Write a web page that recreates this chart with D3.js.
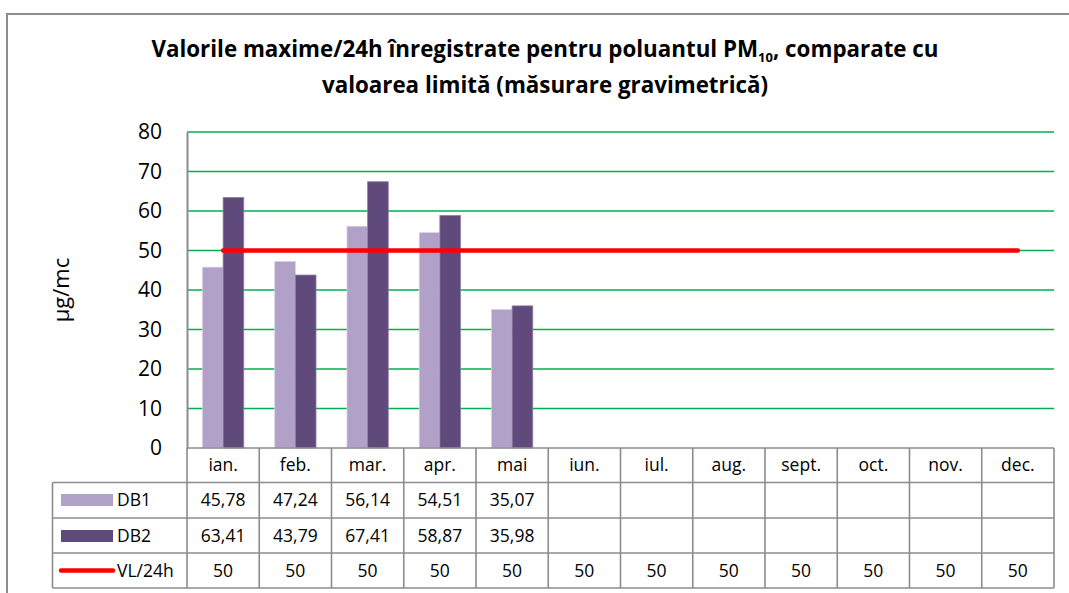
<!DOCTYPE html>
<html><head><meta charset="utf-8">
<script src="https://cdn.jsdelivr.net/npm/d3@7"></script>
<style>body{margin:0;background:#fff}svg{display:block}</style>
</head><body>
<svg id="c" width="1069" height="593"></svg>
<script>
const months = ["ian.","feb.","mar.","apr.","mai","iun.","iul.","aug.","sept.","oct.","nov.","dec."];
const db1 = [45.78, 47.24, 56.14, 54.51, 35.07, null, null, null, null, null, null, null];
const db2 = [63.41, 43.79, 67.41, 58.87, 35.98, null, null, null, null, null, null, null];
const vl = [50,50,50,50,50,50,50,50,50,50,50,50];
const yTicks = [0,10,20,30,40,50,60,70,80];
const seriesNames = ["DB1","DB2","VL/24h"];
const colors = {DB1:"#B1A0C7", DB2:"#604A7B", VL:"#FF0000", grid:"#00B050", border:"#8C8C8C"};

const svg = d3.select("#c");
const font = "Open Sans, Noto Sans, sans-serif";
const L = 187, R = 1054, T = 132, B = 448;
const x = d3.scaleBand().domain(months).range([L, R]).paddingInner(0).paddingOuter(0);
const y = d3.scaleLinear().domain([0, 80]).range([B, T]);
const bw = x.bandwidth() / 3.5;

// outer frame
svg.append("rect").attr("x",7).attr("y",14).attr("width",1100).attr("height",700)
  .attr("fill","none").attr("stroke","#8C8C8C").attr("stroke-width",2);

// title
const title = svg.append("text").attr("text-anchor","middle").attr("font-family",font)
  .attr("font-weight","bold").attr("font-size",19).attr("fill","#000");
const t1 = title.append("tspan").attr("x",545).attr("y",57);
t1.append("tspan").text("Valorile maxime/24h înregistrate pentru poluantul PM");
t1.append("tspan").attr("font-size",13).attr("dy",5).text("10");
t1.append("tspan").attr("dy",-5).text(", comparate cu");
title.append("tspan").attr("x",545).attr("y",93).text("valoarea limită (măsurare gravimetrică)");

// grid
svg.append("g").selectAll("line").data(yTicks.filter(d=>d>0)).join("line")
  .attr("x1",L).attr("x2",R).attr("y1",d=>y(d)).attr("y2",d=>y(d))
  .attr("stroke",colors.grid).attr("stroke-width",1.6);

// y axis
const yAxis = d3.axisLeft(y).tickValues(yTicks).tickSize(0).tickPadding(25);
const ga = svg.append("g").attr("transform",`translate(${L},0)`).call(yAxis);
ga.select(".domain").attr("stroke",colors.border).attr("stroke-width",2);
ga.selectAll("text").attr("font-family",font).attr("font-size",21).attr("fill","#000");

svg.append("text").attr("transform","translate(69,290) rotate(-90)").attr("text-anchor","middle")
  .attr("font-family",font).attr("font-size",22).text("µg/mc");

// bars
const bars = svg.append("g");
bars.selectAll("rect.db1").data(months.map((m,i)=>({m,v:db1[i]})).filter(d=>d.v!=null)).join("rect")
  .attr("x",d=>x(d.m)+bw*0.75).attr("width",bw).attr("y",d=>y(d.v)).attr("height",d=>B-y(d.v))
  .attr("fill",colors.DB1).attr("stroke","#D9D0E6").attr("stroke-width",0.8);
bars.selectAll("rect.db2").data(months.map((m,i)=>({m,v:db2[i]})).filter(d=>d.v!=null)).join("rect")
  .attr("x",d=>x(d.m)+bw*1.75).attr("width",bw).attr("y",d=>y(d.v)).attr("height",d=>B-y(d.v))
  .attr("fill",colors.DB2).attr("stroke","#8E7FA3").attr("stroke-width",0.8);

// VL line
svg.append("path").datum(months.map((m,i)=>({m,v:vl[i]})))
  .attr("d",d3.line().x(d=>x(d.m)+x.bandwidth()/2).y(d=>y(d.v)))
  .attr("fill","none").attr("stroke",colors.VL).attr("stroke-width",4.5).attr("stroke-linecap","round");

// data table
const rows = [482.5, 518, 553, 588];
const TL = 52.5;
const tg = svg.append("g").attr("stroke",colors.border).attr("stroke-width",1.6).attr("fill","none");
tg.append("line").attr("x1",L).attr("x2",R).attr("y1",B).attr("y2",B);
rows.forEach(r=>tg.append("line").attr("x1",TL).attr("x2",R).attr("y1",r).attr("y2",r));
tg.append("line").attr("x1",TL).attr("x2",TL).attr("y1",rows[0]).attr("y2",rows[3]);
months.forEach(m=>tg.append("line").attr("x1",x(m)).attr("x2",x(m)).attr("y1",B).attr("y2",rows[3]));
tg.append("line").attr("x1",R).attr("x2",R).attr("y1",B).attr("y2",rows[3]);

const fs = 17.5;
const tt = svg.append("g").attr("font-family",font).attr("font-size",fs).attr("fill","#000").attr("text-anchor","middle");
tt.selectAll("text.m").data(months).join("text").attr("x",d=>x(d)+x.bandwidth()/2).attr("y",(B+rows[0])/2+6).text(d=>d);
const fmt2 = v => v==null ? "" : v.toFixed(2).replace(".",",");
const rowVals = [db1.map(fmt2), db2.map(fmt2), vl.map(v=>String(v))];
rowVals.forEach((vals,ri)=>{
  tt.append("g").selectAll("text").data(months.map((m,i)=>({m,t:vals[i]}))).join("text")
    .attr("x",d=>x(d.m)+x.bandwidth()/2).attr("y",(rows[ri]+rows[ri+1])/2+6).text(d=>d.t);
});

// legend keys
const lg = svg.append("g");
lg.append("rect").attr("x",61).attr("y",494).attr("width",52).attr("height",12).attr("fill",colors.DB1);
lg.append("rect").attr("x",61).attr("y",530).attr("width",52).attr("height",12).attr("fill",colors.DB2);
lg.append("line").attr("x1",61).attr("x2",113).attr("y1",570.5).attr("y2",570.5).attr("stroke",colors.VL).attr("stroke-width",4.5).attr("stroke-linecap","round");
lg.selectAll("text").data(seriesNames).join("text").attr("x",117).attr("y",(d,i)=>(rows[i]+rows[i+1])/2+6)
  .attr("font-family",font).attr("font-size",fs).text(d=>d);

// fit title width to reference (~790px)
const tw = title.node().getBBox().width;
const target = 790;
const s = 19*Math.min(1.2, target/ (tw||target));
title.attr("font-size", s);
</script>
</body></html>
